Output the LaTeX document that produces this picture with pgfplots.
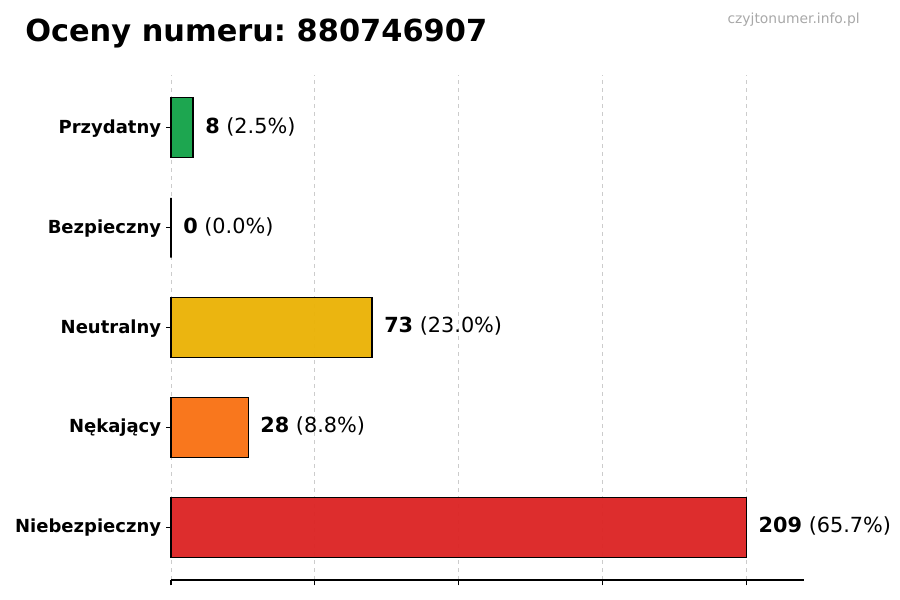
\documentclass[border=0pt]{standalone}
\usepackage{pgfplots}
\pgfplotsset{compat=1.18}
\usepackage{fontspec}
\setmainfont{DejaVu Sans}
\frenchspacing
\definecolor{cgreen}{HTML}{16A34A}
\definecolor{cyellow}{HTML}{EAB308}
\definecolor{corange}{HTML}{F97316}
\definecolor{cred}{HTML}{DC2626}
\definecolor{cgrid}{HTML}{CCCCCC}
\definecolor{cwm}{HTML}{A8A8A8}
\tikzset{ylab/.style={anchor=base east, inner sep=0pt, xshift=-3pt, yshift=-0.42em, font=\fontsize{13.5pt}{16pt}\selectfont\bfseries},
         vlab/.style={anchor=base west, inner sep=0pt, yshift=-0.40em, font=\fontsize{15.6pt}{18pt}\selectfont}}
\begin{document}
\begin{tikzpicture}[x=0.75pt,y=0.75pt]
\path[use as bounding box] (0,0) rectangle (900,600);
\begin{axis}[
  at={(128.25pt,15pt)}, anchor=south west,
  width=474.75pt, height=378.75pt, scale only axis,
  xmin=0, xmax=229.9, ymin=-0.53, ymax=4.53,
  xbar, bar width=0.6, bar shift=0pt,
  axis x line*=bottom, axis y line=none,
  xtick={0,52.25,104.5,156.75,209}, xticklabels={},
  xmajorgrids, grid style={cgrid, dashed, line width=0.6pt},
  major tick length=4pt,
  tick style={black, line width=0.8pt},
  x axis line style={black, line width=0.8pt, -},
  tick align=outside,
  clip=false,
]
\addplot[draw=black, line width=0.8pt, fill=cred, fill opacity=0.97] coordinates {(209,0)};
\addplot[draw=black, line width=0.8pt, fill=corange, fill opacity=0.97] coordinates {(28,1)};
\addplot[draw=black, line width=0.8pt, fill=cyellow, fill opacity=0.97] coordinates {(73,2)};
\addplot[draw=black, line width=0.8pt, fill=cgreen, fill opacity=0.97] coordinates {(0,3)};
\addplot[draw=black, line width=0.8pt, fill=cgreen, fill opacity=0.97] coordinates {(8,4)};
\draw[black, line width=0.8pt] (axis cs:0,0) -- ++(-4pt,0pt) node[ylab] {Niebezpieczny};
\draw[black, line width=0.8pt] (axis cs:0,1) -- ++(-4pt,0pt) node[ylab] {Nękający};
\draw[black, line width=0.8pt] (axis cs:0,2) -- ++(-4pt,0pt) node[ylab] {Neutralny};
\draw[black, line width=0.8pt] (axis cs:0,3) -- ++(-4pt,0pt) node[ylab] {Bezpieczny};
\draw[black, line width=0.8pt] (axis cs:0,4) -- ++(-4pt,0pt) node[ylab] {Przydatny};
\node[vlab] at ([xshift=9pt]axis cs:209,0) {\textbf{209} (65.7\%)};
\node[vlab] at ([xshift=9pt]axis cs:28,1) {\textbf{28} (8.8\%)};
\node[vlab] at ([xshift=9pt]axis cs:73,2) {\textbf{73} (23.0\%)};
\node[vlab] at ([xshift=9pt]axis cs:0,3) {\textbf{0} (0.0\%)};
\node[vlab] at ([xshift=9pt]axis cs:8,4) {\textbf{8} (2.5\%)};
\end{axis}
\node[anchor=base west, inner sep=0pt, font=\fontsize{22.8pt}{26pt}\selectfont\bfseries] at (25,558) {Oceny numeru: 880746907};
\node[anchor=base east, inner sep=0pt, text=cwm, font=\fontsize{10.4pt}{12pt}\selectfont] at (860,576) {czyjtonumer.info.pl};
\end{tikzpicture}
\end{document}
